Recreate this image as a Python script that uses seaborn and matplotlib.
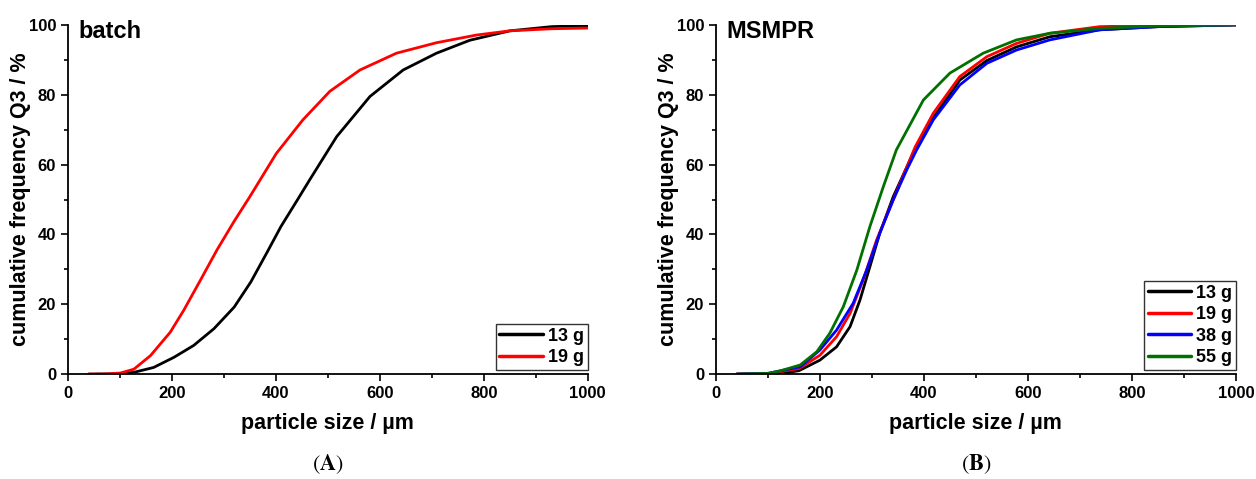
import matplotlib
matplotlib.use("Agg")
import matplotlib.pyplot as plt
from matplotlib.ticker import MultipleLocator
import pandas as pd
import seaborn as sns

sns.set_theme(style="ticks")
plt.rcParams["font.family"] = ["Liberation Sans", "DejaVu Sans"]
plt.rcParams["mathtext.fontset"] = "stix"
for key in ["text.color", "axes.labelcolor", "xtick.color", "ytick.color", "axes.edgecolor"]:
    plt.rcParams[key] = "black"

# batch (A)
batch_13_x = [40, 100, 127, 165, 204, 242, 281, 320, 352, 384, 410, 442, 465, 517, 581, 645, 709, 773, 850, 930, 1000]
batch_13_y = [0, 0.1, 0.5, 1.9, 4.8, 8.2, 13, 19.2, 26.4, 35.1, 42.3, 50, 55.6, 68, 79.5, 87.1, 91.9, 95.6, 98.3, 99.5, 99.8]
batch_19_x = [40, 70, 101, 127, 159, 197, 223, 255, 287, 320, 350, 401, 452, 504, 562, 632, 709, 786, 850, 930, 1000]
batch_19_y = [0, 0, 0.3, 1.4, 5.3, 12, 18.3, 26.9, 35.6, 43.8, 50.8, 63.2, 72.8, 81, 87.1, 91.9, 94.9, 97.1, 98.3, 98.9, 99.1]

# MSMPR (B)
msmpr_13_x = [40, 120, 160, 200, 232, 258, 277, 296, 315, 341, 380, 418, 469, 521, 578, 642, 738, 850, 1000]
msmpr_13_y = [0, 0, 1, 4.0, 7.8, 13.6, 21.2, 30.7, 40.3, 50.8, 63.5, 73.4, 84.2, 89.8, 93.7, 96.6, 98.6, 99.5, 100]
msmpr_19_x = [40, 100, 160, 200, 232, 258, 283, 309, 341, 383, 418, 469, 521, 578, 642, 738, 850, 1000]
msmpr_19_y = [0, 0.1, 1.6, 5.4, 10.7, 17.4, 26.9, 38.4, 49.9, 65, 74.7, 85.2, 90.9, 94.7, 97.6, 99.5, 99.9, 100]
msmpr_38_x = [40, 100, 162, 200, 232, 264, 290, 315, 341, 367, 386, 418, 469, 521, 578, 642, 738, 850, 1000]
msmpr_38_y = [0, 0.2, 2.1, 6.9, 12.6, 20.3, 29.8, 40.3, 49.9, 58.5, 64.2, 72.8, 82.8, 89.0, 92.8, 95.7, 98.6, 99.5, 100]
msmpr_55_x = [40, 100, 123, 162, 194, 219, 245, 271, 296, 322, 347, 399, 450, 514, 578, 642, 738, 850, 1000]
msmpr_55_y = [0, 0.2, 0.9, 2.6, 6.4, 11.7, 19.3, 29.8, 42.2, 53.7, 64.2, 78.5, 86.2, 91.9, 95.7, 97.6, 99.0, 99.7, 100]

labels_batch = ["13 g", "19 g"]
labels_msmpr = ["13 g", "19 g", "38 g", "55 g"]
colors = {"13 g": "black", "19 g": "#ff0000", "38 g": "#0000ff", "55 g": "#007000"}

df_a = pd.concat([
    pd.DataFrame({"size": xs, "Q3": ys, "mass": lab})
    for lab, xs, ys in zip(labels_batch, [batch_13_x, batch_19_x], [batch_13_y, batch_19_y])
])
df_b = pd.concat([
    pd.DataFrame({"size": xs, "Q3": ys, "mass": lab})
    for lab, xs, ys in zip(labels_msmpr,
                           [msmpr_13_x, msmpr_19_x, msmpr_38_x, msmpr_55_x],
                           [msmpr_13_y, msmpr_19_y, msmpr_38_y, msmpr_55_y])
])

fig = plt.figure(figsize=(12.56, 4.79), dpi=100)
ax1 = fig.add_axes([0.054, 0.219, 0.414, 0.729])
ax2 = fig.add_axes([0.570, 0.219, 0.414, 0.729])

for ax, df, labs, title, panel in [(ax1, df_a, labels_batch, "batch", "A"),
                                   (ax2, df_b, labels_msmpr, "MSMPR", "B")]:
    sns.lineplot(data=df, x="size", y="Q3", hue="mass", hue_order=labs,
                 palette=colors, linewidth=2.0, ax=ax, sort=False)
    ax.set_xlim(0, 1000)
    ax.set_ylim(0, 100)
    ax.xaxis.set_major_locator(MultipleLocator(200))
    ax.xaxis.set_minor_locator(MultipleLocator(100))
    ax.yaxis.set_major_locator(MultipleLocator(20))
    ax.yaxis.set_minor_locator(MultipleLocator(10))
    ax.tick_params(which="major", direction="out", length=5, width=1.2, labelsize=12)
    ax.tick_params(which="minor", direction="out", length=3, width=1.2)
    for lab in ax.get_xticklabels() + ax.get_yticklabels():
        lab.set_fontweight("bold")
    for s in ["top", "right"]:
        ax.spines[s].set_visible(False)
    for s in ["left", "bottom"]:
        ax.spines[s].set_linewidth(1.3)
    ax.set_xlabel("particle size / µm", fontsize=15.5, fontweight="bold", labelpad=9)
    ax.set_ylabel("cumulative frequency Q3 / %", fontsize=15.5, fontweight="bold", labelpad=-2)
    ax.text(0.02, 1.015, title, transform=ax.transAxes, fontsize=17, fontweight="bold",
            va="top", ha="left")
    leg = ax.legend(loc="lower right", bbox_to_anchor=(1.0, 0.012), frameon=True,
                    fancybox=False, edgecolor="black",
                    prop={"weight": "bold", "size": 13}, handlelength=2.4,
                    handletextpad=0.3, borderpad=0.2, labelspacing=0.25,
                    borderaxespad=0.0)
    leg.get_frame().set_linewidth(1.0)
    for line in leg.get_lines():
        line.set_linewidth(2.5)
    pos = ax.get_position()
    fig.text(pos.x0 + pos.width / 2, 0.03, r"$(\mathbf{%s})$" % panel,
             fontsize=16, ha="center", va="center")

fig.savefig("out.png", dpi=100)
